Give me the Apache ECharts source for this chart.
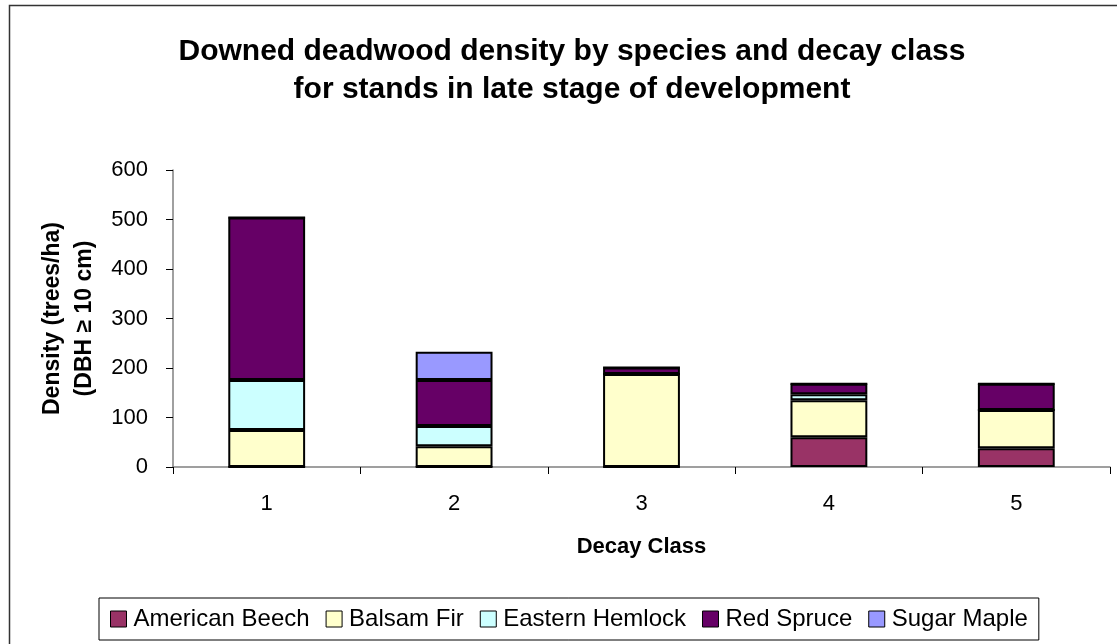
<!DOCTYPE html>
<html>
<head>
<meta charset="utf-8">
<script src="https://cdn.jsdelivr.net/npm/echarts@6/dist/echarts.min.js"></script>
<style>
  html, body { margin: 0; padding: 0; background: #fff; }
  #chart { width: 1117px; height: 644px; }
</style>
</head>
<body>
<div id="chart"></div>
<script>
// decay classes on the x axis
var decayClasses = ["1", "2", "3", "4", "5"];
// density (trees/ha) per species, one value per decay class
var americanBeech = [0, 0, 0, 60, 38];
var balsamFir = [75, 42, 188, 75, 77];
var easternHemlock = [101, 41, 0, 12, 0];
var redSpruce = [328, 93, 13, 21, 53];
var sugarMaple = [0, 57, 0, 0, 0];

var speciesNames = ["American Beech", "Balsam Fir", "Eastern Hemlock", "Red Spruce", "Sugar Maple"];
var speciesData = [americanBeech, balsamFir, easternHemlock, redSpruce, sugarMaple];
var speciesColors = ["#993366", "#FFFFCC", "#CCFFFF", "#660066", "#9999FF"];

var font = "Liberation Sans, Arial, sans-serif";
var myChart = echarts.init(document.getElementById("chart"));

var series = speciesNames.map(function (name, i) {
  return {
    name: name,
    type: "bar",
    stack: "total",
    barWidth: "41%",
    data: speciesData[i],
    itemStyle: {
      color: speciesColors[i],
      borderColor: "#000",
      borderWidth: 2
    }
  };
});

var option = {
  animation: false,
  backgroundColor: "#fff",
  textStyle: { fontFamily: font },
  graphic: [
    {
      type: "rect",
      shape: { x: 9.5, y: 5.5, width: 1130, height: 660 },
      style: { fill: "none", stroke: "#333", lineWidth: 1.5 },
      silent: true
    }
  ],
  title: {
    text: "Downed deadwood density by species and decay class\nfor stands in late stage of development",
    left: 567,
    top: 28,
    textAlign: "center",
    textStyle: {
      fontFamily: font,
      fontSize: 30,
      fontWeight: "bold",
      color: "#000",
      lineHeight: 38
    }
  },
  legend: {
    bottom: 4,
    left: 99,
    width: 1000,
    padding: [9, 11, 9, 11],
    itemGap: 16,
    itemWidth: 16,
    itemHeight: 16,
    icon: "rect",
    borderColor: "#000",
    borderWidth: 1,
    data: speciesNames,
    textStyle: { fontFamily: font, fontSize: 24, color: "#000", padding: [0, 0, 0, 2] },
    itemStyle: { borderColor: "#000", borderWidth: 1 }
  },
  grid: {
    left: 173,
    right: 7,
    top: 170,
    bottom: 177
  },
  xAxis: {
    type: "category",
    data: decayClasses,
    name: "Decay Class",
    nameLocation: "middle",
    nameGap: 69,
    nameTextStyle: { fontFamily: font, fontSize: 22, fontWeight: "bold", color: "#000" },
    axisLine: { lineStyle: { color: "#808080", width: 1.5 } },
    axisTick: { show: true, length: 7, lineStyle: { color: "#000" } },
    axisLabel: { margin: 26, fontFamily: font, fontSize: 22, color: "#000" }
  },
  yAxis: {
    type: "value",
    min: 0,
    max: 600,
    interval: 100,
    name: "Density (trees/ha)\n(DBH \u2265 10 cm)",
    nameLocation: "middle",
    nameGap: 72,
    nameRotate: 90,
    nameTextStyle: { fontFamily: font, fontSize: 23, fontWeight: "bold", color: "#000", lineHeight: 32 },
    axisLine: { show: true, lineStyle: { color: "#808080", width: 1.5 } },
    axisTick: { show: true, length: 7, lineStyle: { color: "#000" } },
    splitLine: { show: false },
    axisLabel: { margin: 25, fontFamily: font, fontSize: 22, color: "#000" }
  },
  series: series
};

myChart.setOption(option);
window.addEventListener("resize", function () {
  myChart.resize();
});
</script>
</body>
</html>
